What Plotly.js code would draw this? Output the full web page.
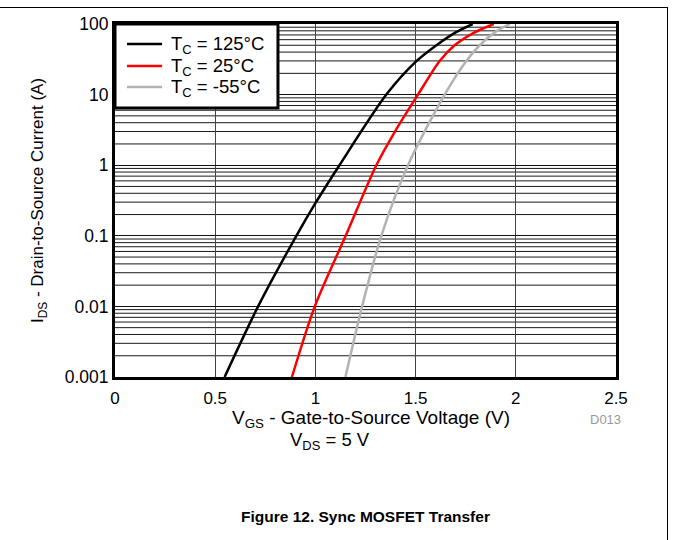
<!DOCTYPE html>
<html>
<head>
<meta charset="utf-8">
<script src="https://cdn.plot.ly/plotly-3.0.1.min.js"></script>
<style>
  html, body { margin: 0; padding: 0; background: #fff; }
  #wrap { position: relative; width: 673px; height: 540px; }
  #frame { position: absolute; left: 0; top: 7px; width: 668px; height: 540px;
           border-top: 1.5px solid #000; border-right: 1.5px solid #000; box-sizing: border-box; }
  #chart { position: absolute; left: 0; top: 0; width: 673px; height: 540px; }
</style>
</head>
<body>
<div id="wrap">
  <div id="frame"></div>
  <div id="chart"></div>
</div>
<script>
// Series: VGS (V) vs IDS (A)
const vgs125 = [0.547, 0.714, 0.905, 1.0, 1.12, 1.354, 1.5, 1.604, 1.7, 1.785];
const ids125 = [0.001, 0.01, 0.1, 0.29, 1, 10, 29, 50, 76, 100];

const vgs25 = [0.883, 0.997, 1.151, 1.304, 1.4, 1.512, 1.62, 1.695, 1.79, 1.89];
const ids25 = [0.001, 0.01, 0.1, 1, 3.1, 10, 30, 50, 75, 100];

const vgsM55 = [1.15, 1.233, 1.329, 1.462, 1.645, 1.753, 1.82, 1.9, 1.97];
const idsM55 = [0.001, 0.01, 0.1, 1, 10, 30, 50, 78, 100];

const seriesNames = ['T<sub>C</sub> = 125°C', 'T<sub>C</sub> = 25°C', 'T<sub>C</sub> = -55°C'];
const seriesColors = ['#000000', '#ff0000', '#b3b3b3'];

const xTickVals = [0, 0.5, 1, 1.5, 2, 2.5];
const xTickText = ['0', '0.5', '1', '1.5', '2', '2.5'];
const yDecades = [0.001, 0.01, 0.1, 1, 10, 100];
const yDecadeText = ['0.001', '0.01', '0.1', '1', '10', '100'];
const minorDigits = [2, 3, 4, 5, 6, 7, 8, 9];

const font = 'Arial, "Liberation Sans", sans-serif';

const shapes = [];
const annotations = [];

// minor log grid lines (2..9 in each decade), placed through the y axis scale
yDecades.slice(0, -1).forEach(d => {
  minorDigits.forEach(m => {
    shapes.push({ type: 'line', xref: 'paper', yref: 'y', x0: 0, x1: 1, y0: d * m, y1: d * m,
                  line: { color: '#1a1a1a', width: 1 }, layer: 'below' });
  });
});

// legend box (drawn in paper coordinates)
const legBox = { x0: 0, x1: 0.3253, y0: 0.762, y1: 1 };
const legRows = [0.9433, 0.881, 0.8215];
shapes.push({ type: 'rect', xref: 'paper', yref: 'paper', x0: legBox.x0, x1: legBox.x1, y0: legBox.y0, y1: legBox.y1,
              fillcolor: '#fff', line: { color: '#000', width: 3 }, layer: 'above' });
seriesNames.forEach((nm, i) => {
  shapes.push({ type: 'line', xref: 'paper', yref: 'paper', x0: 0.024, x1: 0.094, y0: legRows[i], y1: legRows[i],
                line: { color: seriesColors[i], width: 2.5 }, layer: 'above' });
  annotations.push({ xref: 'paper', yref: 'paper', x: 0.108, y: legRows[i] - 0.004, xanchor: 'left', yanchor: 'middle',
                     showarrow: false, text: nm, font: { size: 18.5, color: '#000' } });
});

annotations.push(
  { xref: 'paper', yref: 'paper', x: 0.51, y: -0.1185, yanchor: 'middle', showarrow: false,
    text: 'V<sub>GS</sub> - Gate-to-Source Voltage (V)', font: { size: 19 } },
  { xref: 'paper', yref: 'paper', x: 0.98, y: -0.12, xanchor: 'center', yanchor: 'middle', showarrow: false,
    text: 'D013', font: { size: 13, color: '#999' } },
  { xref: 'paper', yref: 'paper', x: 0.43, y: -0.18, yanchor: 'middle', showarrow: false,
    text: 'V<sub>DS</sub> = 5 V', font: { size: 18.5 } },
  { xref: 'paper', yref: 'paper', x: 0.5, y: -0.395, yanchor: 'middle', showarrow: false,
    text: '<b>Figure 12. Sync MOSFET Transfer</b>', font: { size: 15.5 } }
);

const traces = [
  { x: vgs125, y: ids125, name: seriesNames[0], line: { color: seriesColors[0], width: 2.5, shape: 'spline', smoothing: 0.8 } },
  { x: vgs25, y: ids25, name: seriesNames[1], line: { color: seriesColors[1], width: 2.5, shape: 'spline', smoothing: 0.8 } },
  { x: vgsM55, y: idsM55, name: seriesNames[2], line: { color: seriesColors[2], width: 2.5, shape: 'spline', smoothing: 0.8 } }
].map(t => Object.assign({ type: 'scatter', mode: 'lines', hoverinfo: 'skip', cliponaxis: true }, t));

const layout = {
  width: 673, height: 540,
  margin: { l: 115, r: 57, t: 24, b: 163 },
  paper_bgcolor: 'rgba(0,0,0,0)',
  plot_bgcolor: '#fff',
  font: { family: font, color: '#000', size: 18 },
  showlegend: false,
  xaxis: {
    range: [0, 2.5], tickvals: xTickVals, ticktext: xTickText,
    showgrid: true, gridcolor: '#444', gridwidth: 1,
    showline: true, linecolor: '#000', linewidth: 3, mirror: true,
    ticks: '', zeroline: false, tickfont: { size: 17 },
    ticklabelstandoff: 4
  },
  yaxis: {
    type: 'log', range: [-3, 2], tickvals: yDecades, ticktext: yDecadeText,
    showgrid: true, gridcolor: '#111', gridwidth: 1,
    showline: true, linecolor: '#000', linewidth: 3, mirror: true,
    ticks: '', zeroline: false, tickfont: { size: 17.5 },
    title: { text: 'I<sub>DS</sub> - Drain-to-Source Current (A)', font: { size: 17 }, standoff: 17 }
  },
  shapes: shapes,
  annotations: annotations
};

Plotly.newPlot('chart', traces, layout, { displayModeBar: false, staticPlot: true });
</script>
</body>
</html>
